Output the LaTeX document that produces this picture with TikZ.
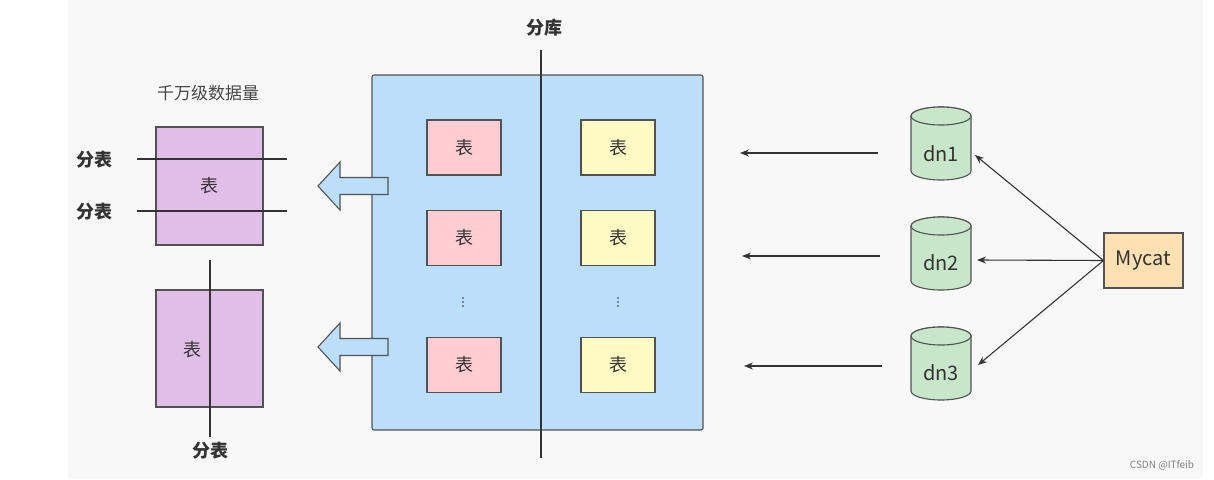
\documentclass[tikz,border=0pt]{standalone}
\usepackage{fontspec}
\setmainfont{Noto Sans CJK SC}
\usetikzlibrary{shapes.geometric,arrows.meta}
\definecolor{bg}{HTML}{F8F8F8}
\definecolor{ln}{HTML}{333333}
\definecolor{bl}{HTML}{BBDEFB}
\definecolor{pk}{HTML}{FFCDD2}
\definecolor{yl}{HTML}{FFF9C4}
\definecolor{pu}{HTML}{E1BEE7}
\definecolor{gr}{HTML}{C8E6C9}
\definecolor{og}{HTML}{FFE0B2}
\tikzset{
 box/.style={draw=ln!85,line width=1.1pt,minimum width=74pt,minimum height=55pt,font=\fontsize{18}{20}\selectfont,text=ln},
 lbl/.style={font=\bfseries\fontsize{18}{20}\selectfont,text=ln},
 cyl/.style={draw=ln!85,line width=1.1pt,fill=gr},
 dbt/.style={font=\fontsize{20}{22}\selectfont,text=ln},
 arr/.style={-{Stealth[length=9pt,width=7pt]},draw=ln,line width=1.1pt},
 hollow/.style={draw=ln!85,line width=1.1pt,fill=bl},
 cut/.style={draw=ln,line width=1.5pt}
}
\begin{document}
\begin{tikzpicture}[x=1pt,y=-1pt]
\useasboundingbox (0,0) rectangle (1214,479);
\fill[bg] (68,0) rectangle (1203,479);
% left tables
\node[box,fill=pu,minimum width=107pt,minimum height=118pt] (t1) at (209.5,186) {表};
\node[box,fill=pu,minimum width=107pt,minimum height=117pt] (t2) at (209.5,348.5) {};
\node[font=\fontsize{18}{20}\selectfont,text=ln] (t2l) at (192,350) {表};
\node[font=\fontsize{17}{19}\selectfont,text=ln!90] (big) at (208,93) {千万级数据量};
\coordinate (h1a) at (137,159); \coordinate (h1b) at (287,159);
\coordinate (h2a) at (137,211); \coordinate (h2b) at (287,211);
\draw[cut] (h1a) -- (h1b);
\draw[cut] (h2a) -- (h2b);
\coordinate (v1) at (210,260); \coordinate (v2) at (210,437);
\draw[cut] (v1) -- (v2);
\node[lbl] (s1) at (94,160) {分表};
\node[lbl] (s2) at (94,212) {分表};
\node[lbl] (s3) at (210,451) {分表};
% database box
\draw[draw=ln!85,line width=1.1pt,fill=bl,rounded corners=2pt] (372,75) rectangle (703,430);
\node[lbl] (ku) at (544,28) {分库};
\coordinate (k1) at (541,50); \coordinate (k2) at (541,458);
\draw[cut] (k1) -- (k2);
\foreach \n/\y in {a/147.5,b/238,c/365}{
 \node[box,fill=pk] (p\n) at (464,\y) {表};
 \node[box,fill=yl] (y\n) at (618,\y) {表};
}
\foreach \x in {463,618}{
 \foreach \d in {-4,0,4} \fill[ln] (\x,302+\d) circle (0.8pt);
}
% hollow arrows
\foreach \y in {186,347}{
 \draw[hollow] (388,\y-8.5) -- (340,\y-8.5) -- (340,\y-24) -- (318,\y) -- (340,\y+24) -- (340,\y+8.5) -- (388,\y+8.5) -- cycle;
}
% data nodes
\foreach \t in {107,217,327}{
 \draw[cyl] (911,\t+9) -- (911,\t+64) arc[start angle=180,end angle=0,x radius=30,y radius=9] -- (971,\t+9) arc[start angle=0,end angle=-180,x radius=30,y radius=9] -- cycle;
 \draw[cyl] (941,\t+9) ellipse[x radius=30,y radius=9];
}
\node[dbt] (dn1) at (941,154) {dn1};
\node[dbt] (dn2) at (941,263) {dn2};
\node[dbt] (dn3) at (941,373) {dn3};
\node[box,fill=og,minimum width=79pt,minimum height=55pt,font=\fontsize{20}{22}\selectfont] (my) at (1143.5,260.5) {Mycat};
\coordinate (a1s) at (878,153); \coordinate (a1e) at (740,153);
\coordinate (a2s) at (880,256); \coordinate (a2e) at (742,256);
\coordinate (a3s) at (882,366); \coordinate (a3e) at (744,366);
\draw[arr] (a1s) -- (a1e);
\draw[arr] (a2s) -- (a2e);
\draw[arr] (a3s) -- (a3e);
\draw[arr] (my.west) -- (975,155);
\draw[arr] (my.west) -- (977,260);
\draw[arr] (my.west) -- (978,365);
\node[text=gray,font=\fontsize{10}{11}\selectfont] (wm) at (1162,465) {CSDN @ITfeib};
\end{tikzpicture}
\end{document}
